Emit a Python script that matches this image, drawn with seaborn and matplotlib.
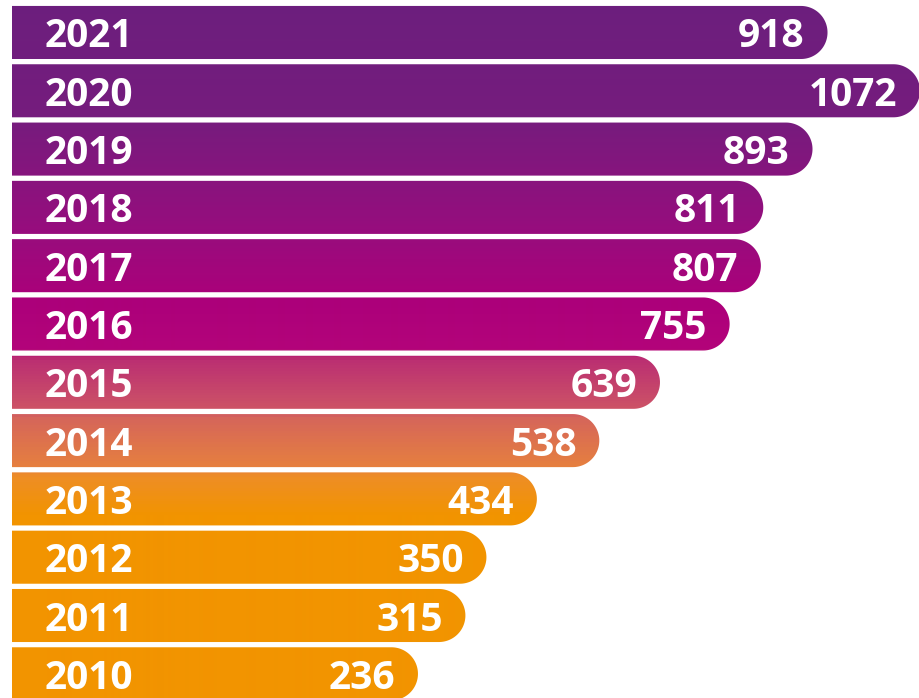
import numpy as np
import pandas as pd
import seaborn as sns
import matplotlib.pyplot as plt
from matplotlib.colors import LinearSegmentedColormap
from matplotlib.patches import Polygon

years = ["2021", "2020", "2019", "2018", "2017", "2016",
         "2015", "2014", "2013", "2012", "2011", "2010"]
values = [918, 1072, 893, 811, 807, 755, 639, 538, 434, 350, 315, 236]

# bars in the original are not to scale, they start from an offset
offset = 440
df = pd.DataFrame({"year": years, "value": values})
df["bar"] = df["value"] + offset

W, H = 920, 698
fig = plt.figure(figsize=(W / 100, H / 100), dpi=100)
ax = fig.add_axes([12 / W, 0, 1 - 12 / W, 1])

sns.barplot(data=df, x="bar", y="year", orient="h", width=0.91,
            color="#6C1F7D", ax=ax)

xmax = 1512
ytop, ybot = -0.557, 11.415
ax.set_xlim(0, xmax)
ax.set_ylim(ybot, ytop)
ax.axis("off")

# vertical gradient purple -> magenta -> orange
grad = LinearSegmentedColormap.from_list("grad", [
    (0.0, "#6C1F7D"),
    (0.17, "#761C7E"),
    (0.34, "#990C7D"),
    (0.43, "#AC007A"),
    (0.50, "#B3047A"),
    (0.515, "#BB2F72"),
    (0.59, "#CE5566"),
    (0.60, "#D6665A"),
    (0.67, "#E6803F"),
    (0.685, "#EE8E25"),
    (0.74, "#F29400"),
    (1.0, "#F29400"),
])
rows = np.linspace(0, 1, H)[:, None]

px_x = (W - 12) / xmax
px_y = H / (ybot - ytop)

for p in list(ax.patches):
    x0, y0 = p.get_x(), p.get_y()
    w, h = p.get_width(), p.get_height()
    p.set_visible(False)
    ry = h / 2
    rx = ry * px_y / px_x
    cx, cy = x0 + w - rx, y0 + h / 2
    t = np.linspace(-np.pi / 2, np.pi / 2, 60)
    arc = np.column_stack([cx + rx * np.cos(t), cy + ry * np.sin(t)])
    pts = np.vstack([[x0, y0], arc, [x0, y0 + h]])
    poly = Polygon(pts, closed=True, facecolor="none", edgecolor="none")
    ax.add_patch(poly)
    im = ax.imshow(rows, cmap=grad, aspect="auto",
                   extent=(0, xmax, ybot, ytop), interpolation="bilinear")
    im.set_clip_path(poly)

    ax.text(55, cy, df["year"].iloc[round(cy)], color="white",
            fontsize=28, fontweight="bold", family="Open Sans",
            ha="left", va="center_baseline")
    ax.text(x0 + w - 38, cy, str(df["value"].iloc[round(cy)]), color="white",
            fontsize=28, fontweight="bold", family="Open Sans",
            ha="right", va="center_baseline")

ax.set_xlim(0, xmax)
ax.set_ylim(ybot, ytop)

fig.savefig("out.png", dpi=100, facecolor="white")
